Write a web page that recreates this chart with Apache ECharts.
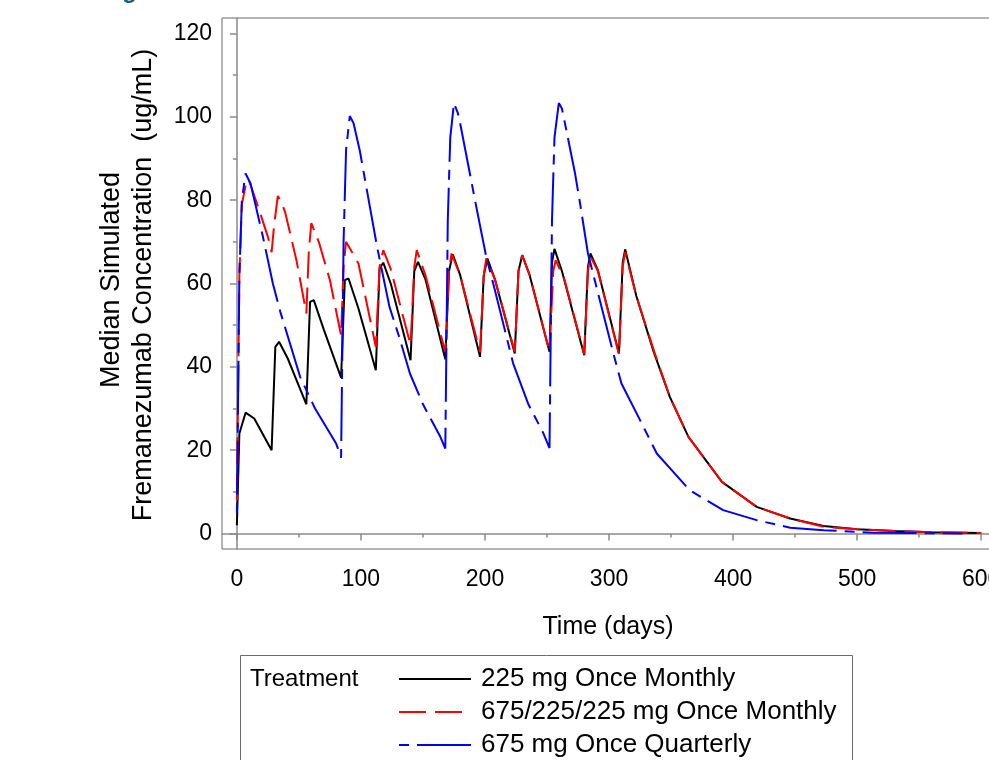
<!DOCTYPE html>
<html>
<head>
<meta charset="utf-8">
<script src="https://cdn.jsdelivr.net/npm/echarts@6/dist/echarts.min.js"></script>
<style>
  html, body { margin: 0; padding: 0; background: #ffffff; }
  #chart { width: 989px; height: 760px; }
</style>
</head>
<body>
<div id="chart"></div>
<script>
// Median simulated fremanezumab concentration (ug/mL) versus time (days)

const seriesNames = ['225 mg Once Monthly', '675/225/225 mg Once Monthly', '675 mg Once Quarterly'];

// 225 mg once monthly
const monthlyDays = [0, 2, 7, 14, 28, 31, 34, 41, 56, 59, 62, 70, 84, 87, 90, 98, 112, 115, 118, 124, 140,
  143, 146, 152, 168, 171, 174, 180, 196, 199, 202, 208, 224, 227, 230, 236, 252, 254, 256, 262, 280,
  283, 285, 291, 308, 311, 313, 322, 336, 349, 364, 391, 419, 446, 473, 500, 530, 560, 600];
const monthlyConc = [2, 24, 29, 27.6, 20, 44.8, 46, 42, 31, 55.6, 56, 49, 37.4, 60.8, 61.2, 54, 39.2, 63.6, 65, 60, 41.6,
  63, 65.2, 61, 41.8, 63, 67, 62, 42.4, 62, 66, 61, 43.2, 63, 66.8, 62, 43.6, 65, 68.3, 63, 42.8,
  64, 67.2, 63.2, 43.2, 65, 68.2, 57, 43.6, 32.8, 23.2, 12.4, 6.4, 3.6, 1.8, 1.0, 0.6, 0.3, 0.1];

// 675 mg loading dose, then 225 mg once monthly
const loadingDays = [0, 2, 4, 8, 10, 18, 25, 28, 30, 33, 36, 39, 48, 56, 58, 60, 66, 75, 84, 86, 88, 98, 112,
  115, 118, 124, 140, 143, 145, 152, 168, 171, 173, 180, 196, 199, 201, 208, 224, 227, 230, 236, 252,
  255, 257, 264, 280, 283, 285, 291, 308, 311, 313, 322, 336, 349, 364, 391, 419, 446, 473, 500, 530, 560, 600];
const loadingConc = [8, 62, 79, 85, 84.5, 77.6, 71.2, 67.5, 74, 81, 79.5, 77, 65.6, 52.8, 68, 74.5, 70, 60.8, 47.5, 64, 70, 64.8, 44.8,
  64, 68, 63.5, 45.2, 64, 68, 62, 43.5, 63, 67.2, 62, 43.5, 62, 66, 61, 43.6, 63, 66.8, 62, 43.6,
  63, 65.6, 61, 43, 63, 66.5, 63, 43, 64, 67.5, 57, 44, 32.8, 23.2, 12.4, 6.4, 3.6, 1.6, 1.0, 0.6, 0.3, 0.1];

// 675 mg once quarterly
const quarterlyDays = [0, 2, 4, 7, 11, 21, 29, 35, 51, 63, 80, 84, 86, 88, 91, 94, 99, 113, 123, 131, 139.5, 150, 164, 168,
  170, 172, 175, 178, 180, 193, 201, 208, 222.6, 235, 247, 252,
  254, 256, 259.5, 262, 264.5, 272.6, 276.6, 283, 303.5, 310, 325, 338.5, 350.5, 365, 392, 419, 446, 473, 513, 585];
const quarterlyConc = [5, 62, 80, 86.4, 84, 71.2, 60, 53.2, 37.6, 30, 21.6, 18.2, 70, 92, 100.2, 98.5, 92, 68.8, 54.4, 47, 38.4, 31, 23.2, 20.4,
  75, 95, 103.3, 101, 98.4, 78.4, 66.4, 58.4, 40.9, 31, 24.1, 20.5,
  75, 95, 103.3, 102, 98.4, 86.4, 79.3, 67.2, 43.2, 36, 27.2, 19.2, 15.2, 10.4, 5.6, 3.2, 1.4, 0.8, 0.2, 0];

// Axis ticks
const xTicks = [0, 100, 200, 300, 400, 500, 600];
const xMinorTicks = [50, 150, 250, 350, 450, 550];
const yTicks = [0, 20, 40, 60, 80, 100, 120];
const yMinorTicks = [10, 30, 50, 70, 90, 110];

const FONT = "'Liberation Sans', Arial, Helvetica, sans-serif";
const AXIS_GREY = '#8a8a8a';

function pairs(xs, ys) {
  return xs.map(function (x, i) { return [x, ys[i]]; });
}

const chart = echarts.init(document.getElementById('chart'), null, { renderer: 'canvas' });

const xBase = {
  type: 'value', min: -12, max: 620, gridIndex: 0, position: 'bottom',
  splitLine: { show: false }
};
const yBase = {
  type: 'value', min: -3.72, max: 123.72, gridIndex: 0, position: 'left',
  splitLine: { show: false }
};

chart.setOption({
  animation: false,
  backgroundColor: '#ffffff',
  grid: {
    left: 222, top: 18, width: 784, height: 531,
    containLabel: false, outerBoundsMode: 'none',
    show: true, borderColor: '#6a6a6a', borderWidth: 1
  },
  xAxis: [
    Object.assign({}, xBase, {
      axisLine: { show: true, lineStyle: { color: AXIS_GREY, width: 1.5 } },
      axisTick: { show: true, customValues: xTicks, length: 7, lineStyle: { color: AXIS_GREY, width: 1.5 } },
      axisLabel: { show: true, customValues: xTicks, margin: 19, color: '#000', fontSize: 23, fontFamily: FONT }
    }),
    Object.assign({}, xBase, {
      axisLine: { show: false },
      axisTick: { show: true, customValues: xMinorTicks, length: 4, lineStyle: { color: AXIS_GREY, width: 1.5 } },
      axisLabel: { show: false }
    })
  ],
  yAxis: [
    Object.assign({}, yBase, {
      axisLine: { show: true, lineStyle: { color: AXIS_GREY, width: 1.5 } },
      axisTick: { show: true, customValues: yTicks, length: 7, lineStyle: { color: AXIS_GREY, width: 1.5 } },
      axisLabel: { show: true, customValues: yTicks, margin: 10, color: '#000', fontSize: 23, fontFamily: FONT }
    }),
    Object.assign({}, yBase, {
      axisLine: { show: false },
      axisTick: { show: true, customValues: yMinorTicks, length: 4, lineStyle: { color: AXIS_GREY, width: 1.5 } },
      axisLabel: { show: false }
    })
  ],
  legend: {
    orient: 'vertical',
    left: 398, top: 664,
    padding: 0,
    itemWidth: 72, itemHeight: 14, itemGap: 3,
    itemStyle: { opacity: 0 },
    data: seriesNames,
    textStyle: { fontSize: 26, lineHeight: 30, color: '#000', fontFamily: FONT, padding: [0, 0, 0, 5] }
  },
  series: [
    {
      name: seriesNames[0], type: 'line', xAxisIndex: 0, yAxisIndex: 0,
      symbol: 'none', data: pairs(monthlyDays, monthlyConc),
      lineStyle: { color: '#000000', width: 2 }, itemStyle: { color: '#000000' }, z: 2
    },
    {
      name: seriesNames[1], type: 'line', xAxisIndex: 0, yAxisIndex: 0,
      symbol: 'none', data: pairs(loadingDays, loadingConc),
      lineStyle: { color: '#ff0000', width: 2, type: [27, 9] }, itemStyle: { color: '#ff0000' }, z: 3
    },
    {
      name: seriesNames[2], type: 'line', xAxisIndex: 0, yAxisIndex: 0,
      symbol: 'none', data: pairs(quarterlyDays, quarterlyConc),
      lineStyle: { color: '#0000ff', width: 2, type: [10, 8, 54, 8] }, itemStyle: { color: '#0000ff' }, z: 4
    }
  ],
  graphic: [
    // title line sitting above the frame
    { type: 'text', x: 101, y: -8.4, style: { text: 'Figure', fill: '#1b5e7e', font: 'bold 24px ' + FONT, align: 'left', verticalAlign: 'middle' } },
    // y axis title (two centred lines)
    { type: 'text', x: 112, y: 280, rotation: Math.PI / 2,
      style: { text: 'Median Simulated', fill: '#000', font: '27px ' + FONT, align: 'center', verticalAlign: 'middle' } },
    { type: 'text', x: 144, y: 285, rotation: Math.PI / 2,
      style: { text: 'Fremanezumab Concentration  (ug/mL)', fill: '#000', font: '27px ' + FONT, align: 'center', verticalAlign: 'middle' } },
    // x axis title
    { type: 'text', x: 608, y: 627,
      style: { text: 'Time (days)', fill: '#000', font: '25px ' + FONT, align: 'center', verticalAlign: 'middle' } },
    // legend frame and heading
    { type: 'rect', shape: { x: 240.5, y: 655.5, width: 612, height: 130 },
      style: { fill: 'none', stroke: '#6a6a6a', lineWidth: 1 } },
    { type: 'text', x: 250, y: 679,
      style: { text: 'Treatment', fill: '#000', font: '24px ' + FONT, align: 'left', verticalAlign: 'middle' } }
  ]
});
</script>
</body>
</html>
